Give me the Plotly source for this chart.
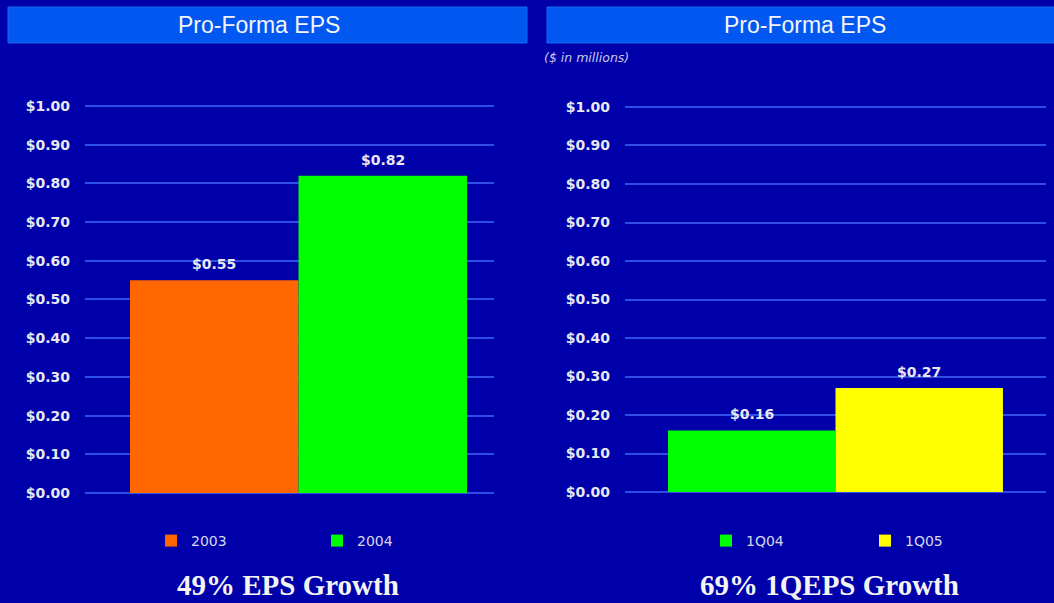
import plotly.graph_objects as go

# ---- data ----
left_categories = ["2003", "2004"]
left_values = [0.55, 0.82]
left_colors = ["#FF6600", "#00FF00"]

right_categories = ["1Q04", "1Q05"]
right_values = [0.16, 0.27]
right_colors = ["#00FF00", "#FFFF00"]

y_tickvals = [0.0, 0.1, 0.2, 0.3, 0.4, 0.5, 0.6, 0.7, 0.8, 0.9, 1.0]
y_ticktext = ["$0.00", "$0.10", "$0.20", "$0.30", "$0.40", "$0.50",
              "$0.60", "$0.70", "$0.80", "$0.90", "$1.00"]

panel_title = "Pro-Forma EPS"
left_caption = "49% EPS Growth"
right_caption = "69% 1QEPS Growth"
units_note = "($ in millions)"

W, H = 1054, 603
BG = "#0000AA"
GRID = "#2E4FE6"
TXT = "#E8E8F2"

fig = go.Figure()

for i, (c, v, col) in enumerate(zip(left_categories, left_values, left_colors)):
    fig.add_trace(go.Bar(x=[i], y=[v], name=c, width=1, marker_color=col,
                         marker_line_width=0, xaxis="x", yaxis="y",
                         legend="legend", hoverinfo="skip"))
for i, (c, v, col) in enumerate(zip(right_categories, right_values, right_colors)):
    fig.add_trace(go.Bar(x=[i], y=[v], name=c, width=1, marker_color=col,
                         marker_line_width=0, xaxis="x2", yaxis="y2",
                         legend="legend2", hoverinfo="skip"))

label_font = dict(family="DejaVu Sans", size=14, color=TXT, weight="bold")
annotations = []
for i, v in enumerate(left_values):
    annotations.append(dict(x=i, y=v, xref="x", yref="y", text=f"${v:.2f}",
                            showarrow=False, yanchor="middle", yshift=16, font=label_font))
for i, v in enumerate(right_values):
    annotations.append(dict(x=i, y=v, xref="x2", yref="y2", text=f"${v:.2f}",
                            showarrow=False, yanchor="middle", yshift=16, font=label_font))

title_font = dict(family="Liberation Sans", size=23, color="#F4F4FA")
annotations.append(dict(x=259 / W, y=1 - 25 / H, xref="paper", yref="paper", text=panel_title,
                        showarrow=False, xanchor="center", yanchor="middle", font=title_font))
annotations.append(dict(x=805 / W, y=1 - 25 / H, xref="paper", yref="paper", text=panel_title,
                        showarrow=False, xanchor="center", yanchor="middle", font=title_font))
annotations.append(dict(x=542 / W, y=1 - 57 / H, xref="paper", yref="paper", text=f"<i>{units_note}</i>",
                        showarrow=False, xanchor="left", yanchor="middle",
                        font=dict(family="DejaVu Sans", size=12.5, color="#C8CCE8")))
caption_font = dict(family="Liberation Serif", size=29, color="#F4F4F4")
annotations.append(dict(x=288 / W, y=1 - 585 / H, xref="paper", yref="paper", text=f"<b>{left_caption}</b>",
                        showarrow=False, xanchor="center", yanchor="middle", font=caption_font))
annotations.append(dict(x=829 / W, y=1 - 585 / H, xref="paper", yref="paper", text=f"<b>{right_caption}</b>",
                        showarrow=False, xanchor="center", yanchor="middle", font=caption_font))

shapes = [
    dict(type="rect", xref="paper", yref="paper", x0=8 / W, x1=527 / W,
         y0=1 - 43 / H, y1=1 - 7 / H, fillcolor="#0058F0",
         line=dict(color="#1A66F2", width=1), layer="below"),
    dict(type="rect", xref="paper", yref="paper", x0=547 / W, x1=1.01,
         y0=1 - 43 / H, y1=1 - 7 / H, fillcolor="#0058F0",
         line=dict(color="#1A66F2", width=1), layer="below"),
]

yaxis_common = dict(range=[-0.003, 1.003], tickvals=y_tickvals, ticktext=y_ticktext,
                    showgrid=True, gridcolor=GRID, gridwidth=2,
                    zeroline=False, automargin=False,
                    showline=False, ticks="", ticklabelstandoff=14,
                    tickfont=dict(family="DejaVu Sans", size=14, color=TXT, weight="bold"),
                    fixedrange=True)
xaxis_common = dict(showgrid=False, zeroline=False, showticklabels=False, automargin=False,
                    showline=False, ticks="", fixedrange=True)


def ydom(px0, px1, pad_units, ppu):
    return [1 - (px0 + pad_units * ppu) / H, 1 - (px1 - pad_units * ppu) / H]


fig.update_layout(
    template="none",
    width=W, height=H,
    margin=dict(l=0, r=0, t=0, b=0, pad=0),
    paper_bgcolor=BG, plot_bgcolor="rgba(0,0,0,0)",
    barmode="overlay",
    showlegend=True,
    xaxis=dict(domain=[85 / W, 494 / W], range=[-0.767, 1.660], anchor="y", **xaxis_common),
    yaxis=dict(domain=ydom(493, 106, 0.003, 387), anchor="x", **yaxis_common),
    xaxis2=dict(domain=[625 / W, 1046 / W], range=[-0.757, 1.757], anchor="y2", **xaxis_common),
    yaxis2=dict(domain=ydom(492, 107, 0.003, 385), anchor="x2", **yaxis_common),
    legend=dict(orientation="h", x=151 / W, y=1 - 541 / H, xanchor="left", yanchor="middle",
                entrywidth=121, bgcolor="rgba(0,0,0,0)", borderwidth=0,
                font=dict(family="DejaVu Sans", size=14, color="#D8D8E8"), traceorder="normal"),
    legend2=dict(orientation="h", x=706 / W, y=1 - 541 / H, xanchor="left", yanchor="middle",
                 entrywidth=114, bgcolor="rgba(0,0,0,0)", borderwidth=0,
                 font=dict(family="DejaVu Sans", size=14, color="#D8D8E8"), traceorder="normal"),
    annotations=annotations,
    shapes=shapes,
)

fig.write_html("out.html")
